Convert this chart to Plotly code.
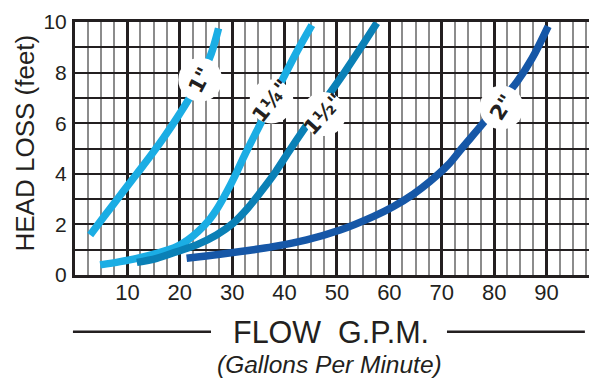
import plotly.graph_objects as go

# ---- data ----
x_tick_vals = [10, 20, 30, 40, 50, 60, 70, 80, 90]
y_tick_vals = [0, 2, 4, 6, 8, 10]

flow_1in = [2.9, 5.4, 8.6, 11.8, 14.6, 17.0, 19.5, 22.0, 24.2, 26.0, 27.4]
head_1in = [1.58, 2.27, 3.14, 4.0, 4.76, 5.45, 6.22, 7.05, 7.9, 8.75, 9.75]

flow_114 = [4.8, 8.6, 11.8, 15.6, 19.4, 21.5, 23.5, 25.5, 27.3, 29.0, 30.6, 32.4, 35.2, 37.5, 39.9, 42.4, 45.2]
head_114 = [0.40, 0.53, 0.66, 0.86, 1.12, 1.38, 1.72, 2.15, 2.68, 3.3, 3.95, 4.75, 5.9, 6.85, 7.85, 8.85, 9.88]

flow_112 = [11.8, 15.6, 19.4, 23.2, 27.0, 30.2, 33.0, 35.5, 38.2, 41.2, 44.5, 48.0, 51.4, 54.6, 57.6]
head_112 = [0.50, 0.66, 0.92, 1.19, 1.58, 2.05, 2.65, 3.3, 4.05, 5.0, 6.0, 7.0, 8.0, 9.0, 9.96]

flow_2in = [21.3, 27.7, 33.4, 37.8, 44.2, 50.6, 56.9, 60.7, 64.6, 67.7, 71.2, 73.8, 77.9, 81.0, 84.3, 87.2, 90.3]
head_2in = [0.66, 0.82, 0.98, 1.12, 1.39, 1.78, 2.31, 2.70, 3.2, 3.69, 4.35, 5.0, 6.0, 6.8, 7.62, 8.55, 9.83]

series_names = ['1"', '1¼"', '1½"', '2"']
series_flows = [flow_1in, flow_114, flow_112, flow_2in]
series_heads = [head_1in, head_114, head_112, head_2in]
series_colors = ['#1BADE4', '#1BADE4', '#0A80B6', '#1657A7']

label_x = [23.9, 37.5, 47.5, 81.4]
label_y = [7.72, 6.86, 6.36, 6.62]
label_angle = [-62, -52, -48, -57]

DARK = '#231F20'
FONT = 'Liberation Sans'

fig = go.Figure()
for name, fx, hy, col in zip(series_names, series_flows, series_heads, series_colors):
    fig.add_trace(go.Scatter(x=fx, y=hy, mode='lines', name=name,
                             line=dict(color=col, width=7.5, shape='spline', smoothing=1.0),
                             hoverinfo='skip', showlegend=False))

# white label discs
fig.add_trace(go.Scatter(x=label_x, y=label_y, mode='markers',
                         marker=dict(size=44, color='white', line=dict(width=0)),
                         hoverinfo='skip', showlegend=False))

annotations = []
for name, lx, ly, ang in zip(series_names, label_x, label_y, label_angle):
    annotations.append(dict(x=lx, y=ly, xref='x', yref='y', text='<b>' + name + '</b>',
                            showarrow=False, textangle=ang, xanchor='center', yanchor='middle',
                            font=dict(family='DejaVu Sans', size=21, color=DARK)))

# axis titles
annotations.append(dict(x=-0.0963, y=0.5217, xref='paper', yref='paper', text='HEAD LOSS (feet)',
                        showarrow=False, textangle=-90, xanchor='center', yanchor='middle',
                        font=dict(family=FONT, size=26, color=DARK)))
annotations.append(dict(x=0.4977, y=-0.2253, xref='paper', yref='paper',
                        text='FLOW\u00a0 G.P.M.',
                        showarrow=False, xanchor='center', yanchor='middle',
                        font=dict(family=FONT, size=30.5, color=DARK)))
annotations.append(dict(x=0.496, y=-0.352, xref='paper', yref='paper',
                        text='<i>(Gallons Per Minute)</i>',
                        showarrow=False, xanchor='center', yanchor='middle',
                        font=dict(family=FONT, size=24.5, color=DARK)))

shapes = [
    dict(type='line', xref='paper', yref='paper', x0=-0.004, x1=0.2646, y0=-0.224, y1=-0.224,
         line=dict(color=DARK, width=2.5)),
    dict(type='line', xref='paper', yref='paper', x0=0.7237, x1=0.992, y0=-0.224, y1=-0.224,
         line=dict(color=DARK, width=2.5)),
]

fig.update_layout(
    width=589, height=379,
    margin=dict(l=75, r=0, t=22, b=104),
    paper_bgcolor='white', plot_bgcolor='white',
    annotations=annotations, shapes=shapes,
    xaxis=dict(range=[0, 98.1], tickmode='array', tickvals=x_tick_vals,
               ticktext=[str(v) for v in x_tick_vals],
               showgrid=True, gridcolor=DARK, gridwidth=2.6,
               minor=dict(tickmode='linear', tick0=0, dtick=2.5, showgrid=True,
                          gridcolor='#8C8C8C', gridwidth=1.6),
               showline=True, linecolor=DARK, linewidth=3, mirror=True,
               zeroline=False, ticks='', ticklabelstandoff=-4,
               tickfont=dict(family=FONT, size=22, color=DARK)),
    yaxis=dict(range=[0, 10], tickmode='array', tickvals=y_tick_vals,
               ticktext=[str(v) for v in y_tick_vals],
               showgrid=True, gridcolor=DARK, gridwidth=2.3,
               minor=dict(tickmode='linear', tick0=0, dtick=1, showgrid=True,
                          gridcolor=DARK, gridwidth=2.3),
               showline=True, linecolor=DARK, linewidth=3, mirror=False,
               zeroline=False, ticks='', ticklabelstandoff=1,
               tickfont=dict(family=FONT, size=21, color=DARK)),
)

fig.write_html('out.html', config={'displayModeBar': False},
               post_script="document.body.style.margin='0';document.body.style.overflow='hidden';")
